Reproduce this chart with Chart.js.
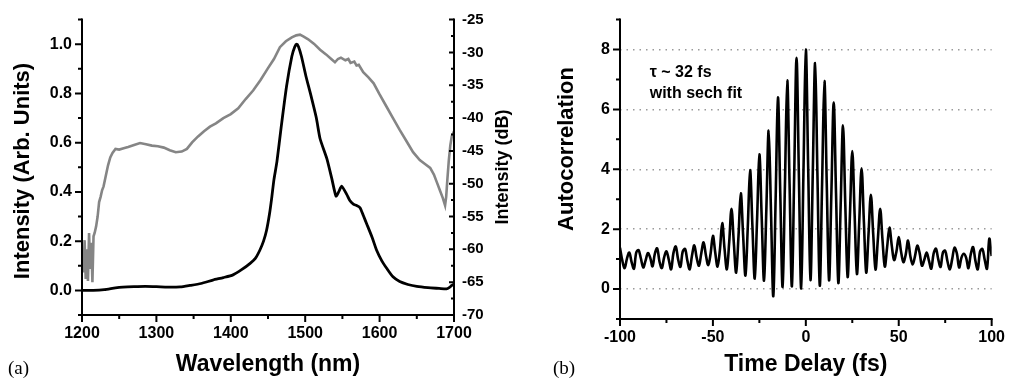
<!DOCTYPE html>
<html>
<head>
<meta charset="utf-8">
<script src="https://cdn.jsdelivr.net/npm/chart.js@4.4.0/dist/chart.umd.min.js"></script>
<style>
  html, body { margin: 0; padding: 0; background: #fff; }
  body { width: 1014px; height: 378px; position: relative; overflow: hidden; }
  canvas { position: absolute; top: 0; }
</style>
</head>
<body>
<canvas id="spectrum" width="520" height="378" style="left:0"></canvas>
<canvas id="autocorr" width="494" height="378" style="left:520px"></canvas>
<script>
// (a) spectrum, linear scale (black, left axis)
const linWavelength = [1200, 1215, 1230, 1245, 1255, 1270, 1285, 1300, 1315, 1332, 1345, 1360, 1376, 1390, 1403,
  1415, 1426, 1433, 1439, 1444, 1448, 1452, 1455, 1458, 1462, 1468, 1475, 1482, 1486, 1488.6, 1491, 1495,
  1501, 1507, 1515, 1520, 1529, 1535.6, 1541.4, 1545, 1549, 1555.8, 1560, 1564.7, 1569, 1573.7, 1578,
  1582.7, 1590, 1596, 1603, 1609.5, 1618, 1627, 1638, 1650, 1665, 1680, 1690, 1694, 1697, 1700];
const linIntensity = [0.0, 0.0, 0.003, 0.01, 0.013, 0.015, 0.016, 0.015, 0.013, 0.014, 0.02, 0.028, 0.042, 0.052, 0.063,
  0.085, 0.11, 0.13, 0.163, 0.2, 0.243, 0.31, 0.376, 0.45, 0.523, 0.67, 0.83, 0.95, 0.99, 1.0, 0.99, 0.95,
  0.87, 0.80, 0.70, 0.616, 0.536, 0.456, 0.383, 0.40, 0.423, 0.39, 0.365, 0.35, 0.345, 0.336, 0.305,
  0.27, 0.215, 0.163, 0.12, 0.09, 0.055, 0.036, 0.024, 0.016, 0.011, 0.008, 0.006, 0.012, 0.02, 0.026];

// (a) spectrum, log scale (grey, right axis)
const logWavelength = [1200, 1202, 1203.5, 1205, 1206.5, 1208, 1209.5, 1211, 1212.5, 1214, 1215.5, 1217, 1219, 1221,
  1223, 1225, 1227, 1229, 1232, 1235, 1238, 1241, 1245, 1250, 1256, 1262, 1270, 1278, 1286, 1294, 1302,
  1310, 1318, 1326, 1334, 1341, 1348, 1356, 1364, 1372, 1380, 1390, 1400, 1410, 1420, 1430, 1440, 1450,
  1458, 1466, 1474, 1482, 1488, 1493, 1498, 1504, 1512, 1520, 1528, 1535, 1540, 1544, 1548, 1554, 1558,
  1561, 1566, 1569, 1572, 1578, 1585, 1592, 1600, 1609, 1618, 1627, 1636, 1645, 1654, 1661, 1668, 1673,
  1677, 1681, 1685, 1688, 1689.5, 1691, 1693, 1695, 1697, 1700];
const logIntensityDb = [-62.0, -63.5, -58.6, -64.5, -60.0, -64.8, -57.5, -63.0, -59.0, -65.0, -58.0, -57.5, -56.5, -55.0,
  -52.8, -52.0, -51.0, -50.4, -48.8, -47.2, -46.0, -45.3, -44.7, -44.8, -44.6, -44.4, -44.1, -43.8, -44.0, -44.2, -44.3,
  -44.5, -44.9, -45.2, -45.1, -44.7, -43.7, -42.8, -42.0, -41.3, -40.8, -40.0, -39.4, -38.5, -37.1, -35.8, -34.2, -32.4,
  -31.0, -29.2, -28.3, -27.7, -27.4, -27.3, -27.6, -28.0, -28.7, -29.6, -30.3, -31.0, -31.5, -31.0, -30.8, -31.2, -31.0,
  -31.6, -31.4, -32.0, -31.9, -33.0, -33.8, -34.7, -36.4, -38.2, -40.0, -41.8, -43.5, -45.2, -46.4, -47.0, -47.6, -48.6,
  -49.8, -51.0, -52.2, -53.3, -52.0, -49.5, -46.5, -44.2, -42.8, -42.0];

// (b) interferometric autocorrelation
const acDelay = [-100, -98.75, -97.5, -96.25, -95, -93.75, -92.5, -91.25, -90, -88.75, -87.5, -86.25,
  -85, -83.75, -82.5, -81.25, -80, -78.75, -77.5, -76.25, -75, -73.75, -72.5, -71.25,
  -70, -68.75, -67.5, -66.25, -65, -63.75, -62.5, -61.25, -60, -58.75, -57.5, -56.25,
  -55, -53.75, -52.5, -51.25, -50, -48.75, -47.5, -46.25, -45, -43.75, -42.5, -41.25,
  -40, -38.75, -37.5, -36.25, -35, -33.75, -32.5, -31.25, -30, -28.75, -27.5, -26.25,
  -25, -23.75, -22.5, -21.25, -20, -18.75, -17.5, -16.25, -15, -13.75, -12.5, -11.25,
  -10, -8.75, -7.5, -6.25, -5, -3.75, -2.5, -1.25, 0, 1.25, 2.5, 3.75,
  5, 6.25, 7.5, 8.75, 10, 11.25, 12.5, 13.75, 15, 16.25, 17.5, 18.75,
  20, 21.25, 22.5, 23.75, 25, 26.25, 27.5, 28.75, 30, 31.25, 32.5, 33.75,
  35, 36.25, 37.5, 38.75, 40, 41.25, 42.5, 43.75, 45, 46.25, 47.5, 48.75,
  50, 51.25, 52.5, 53.75, 55, 56.25, 57.5, 58.75, 60, 61.25, 62.5, 63.75,
  65, 66.25, 67.5, 68.75, 70, 71.25, 72.5, 73.75, 75, 76.25, 77.5, 78.75,
  80, 81.25, 82.5, 83.75, 85, 86.25, 87.5, 88.75, 90, 91.25, 92.5, 93.75,
  95, 96.25, 97.5, 98.75, 100];
const acSignal = [1.38, 0.95, 0.70, 1.02, 1.22, 0.90, 0.68, 1.22, 1.30, 1.02, 0.72, 0.95,
  1.20, 1.05, 0.76, 1.18, 1.36, 0.92, 0.70, 1.06, 1.26, 0.98, 0.66, 1.20,
  1.42, 1.00, 0.74, 1.25, 1.34, 0.95, 0.66, 1.12, 1.46, 1.05, 0.78, 1.20,
  1.56, 1.12, 0.80, 1.18, 1.78, 1.22, 0.75, 1.30, 2.20, 1.35, 0.66, 1.55,
  2.68, 1.55, 0.55, 1.75, 3.20, 1.80, 0.45, 2.05, 3.97, 2.12, 0.35, 2.30,
  4.50, 2.40, 0.28, 2.65, 5.29, 2.60, -0.24, 3.00, 6.40, 3.20, 0.07, 3.45,
  6.97, 3.50, 0.09, 3.85, 7.72, 3.85, 0.02, 4.00, 8.00, 4.10, 0.30, 3.90,
  7.55, 3.80, 0.11, 3.50, 6.95, 3.55, 0.29, 3.20, 6.23, 3.20, 0.20, 2.80,
  5.47, 2.80, 0.40, 2.50, 4.61, 2.50, 0.50, 2.25, 4.03, 2.25, 0.55, 1.85,
  3.15, 1.85, 0.65, 1.65, 2.68, 1.65, 0.75, 1.40, 2.05, 1.45, 0.97, 1.25,
  1.74, 1.25, 0.90, 1.15, 1.62, 1.10, 0.82, 1.10, 1.45, 1.20, 0.78, 0.98,
  1.22, 0.95, 0.68, 1.18, 1.35, 1.00, 0.74, 1.22, 1.28, 0.92, 0.66, 1.00,
  1.38, 1.20, 0.72, 1.05, 1.18, 1.05, 0.70, 1.16, 1.40, 0.95, 0.66, 1.25,
  1.34, 0.98, 0.68, 1.68, 1.10];

// ticks
const waveMajor = [1200, 1300, 1400, 1500, 1600, 1700];
const waveMinor = [1250, 1350, 1450, 1550, 1650];
const linMajor = [0, 0.2, 0.4, 0.6, 0.8, 1.0];
const linMinor = [-0.1, 0.1, 0.3, 0.5, 0.7, 0.9, 1.1];
const linLabels = ['0.0', '0.2', '0.4', '0.6', '0.8', '1.0'];
const dbMajor = [-70, -65, -60, -55, -50, -45, -40, -35, -30, -25];
const dbMinor = [-67.5, -62.5, -57.5, -52.5, -47.5, -42.5, -37.5, -32.5, -27.5];
const delayMajor = [-100, -50, 0, 50, 100];
const delayMinor = [-75, -25, 25, 75];
const acMajor = [0, 2, 4, 6, 8];
const acMinor = [-1, 1, 3, 5, 7, 9];

Chart.defaults.font.family = '"Liberation Sans", Arial, sans-serif';
Chart.defaults.color = '#000';

const tickFont = { size: 16, weight: 'bold' };
const titleFont = { size: 23, weight: 'bold' };

function setTicks(major, minor) {
  return function (scale) {
    scale.ticks = major.map(v => ({ value: v, major: true }))
      .concat(minor.map(v => ({ value: v, major: false })))
      .sort((a, b) => a.value - b.value);
  };
}

function pts(xs, ys) {
  return xs.map((x, i) => ({ x: x, y: ys[i] }));
}

// axis lines, tick marks and loose text
function makeFrame(cfg) {
  return {
    id: 'frame',
    afterDraw: function (chart) {
      const ctx = chart.ctx;
      const area = chart.chartArea;
      ctx.save();
      ctx.strokeStyle = '#000';
      cfg.axes.forEach(function (a) {
        const s = chart.scales[a.id];
        const edge = a.side === 'bottom' ? area.bottom : (a.side === 'left' ? area.left : area.right);
        ctx.lineWidth = 2;
        ctx.lineCap = 'square';
        ctx.beginPath();
        if (a.side === 'bottom') { ctx.moveTo(area.left, edge); ctx.lineTo(area.right, edge); }
        else { ctx.moveTo(edge, area.top); ctx.lineTo(edge, area.bottom); }
        ctx.stroke();
        ctx.lineCap = 'butt';
        ctx.beginPath();
        s.ticks.forEach(function (t) {
          const p = s.getPixelForValue(t.value);
          const len = (t.major ? a.major : a.minor) * a.dir;
          if (a.side === 'bottom') { ctx.moveTo(p, edge); ctx.lineTo(p, edge + len); }
          else { ctx.moveTo(edge, p); ctx.lineTo(edge + len, p); }
        });
        ctx.stroke();
      });
      ctx.fillStyle = '#000';
      cfg.labels.forEach(function (l) {
        ctx.save();
        ctx.font = l.font;
        ctx.textAlign = l.align;
        ctx.textBaseline = 'alphabetic';
        ctx.translate(l.x, l.y);
        if (l.rotate) ctx.rotate(-Math.PI / 2);
        ctx.fillText(l.text, 0, 0);
        ctx.restore();
      });
      (cfg.notes || []).forEach(function (n) {
        ctx.font = n.font;
        ctx.textAlign = 'left';
        ctx.textBaseline = 'middle';
        ctx.fillText(n.text, chart.scales.x.getPixelForValue(n.x), chart.scales.y.getPixelForValue(n.y));
      });
      ctx.restore();
    }
  };
}

const hidden = { grid: { display: false, drawTicks: false }, border: { display: false } };

new Chart(document.getElementById('spectrum'), {
  type: 'line',
  data: {
    datasets: [
      { data: pts(linWavelength, linIntensity), yAxisID: 'y', borderColor: '#000', borderWidth: 2.8,
        pointRadius: 0, tension: 0.2, fill: false },
      { data: pts(logWavelength, logIntensityDb), yAxisID: 'y2', borderColor: '#858585', borderWidth: 2.6,
        pointRadius: 0, tension: 0, fill: false }
    ]
  },
  options: {
    responsive: false, animation: false, devicePixelRatio: 1,
    layout: { autoPadding: false, padding: { top: 15, left: 0, right: 0, bottom: 0 } },
    plugins: { legend: { display: false }, tooltip: { enabled: false } },
    scales: {
      x: Object.assign({
        type: 'linear', position: 'bottom', min: 1200, max: 1700,
        afterBuildTicks: setTicks(waveMajor, waveMinor),
        afterFit: s => { s.height = 63; },
        ticks: { autoSkip: false, maxRotation: 0, padding: 9, font: tickFont,
          callback: v => waveMajor.includes(v) ? String(v) : '' },
        title: { display: true, text: 'Wavelength (nm)', font: titleFont, padding: { top: 0, bottom: 0 } }
      }, hidden),
      y: Object.assign({
        type: 'linear', position: 'left', min: -0.1, max: 1.1,
        afterBuildTicks: setTicks(linMajor, linMinor),
        afterFit: s => { s.width = 82; },
        ticks: { autoSkip: false, padding: 10, font: tickFont,
          callback: v => { const i = linMajor.indexOf(v); return i >= 0 ? linLabels[i] : ''; } }
      }, hidden),
      y2: Object.assign({
        type: 'linear', position: 'right', min: -70, max: -25,
        afterBuildTicks: setTicks(dbMajor, dbMinor),
        afterFit: s => { s.width = 66; },
        ticks: { autoSkip: false, padding: 8, font: { size: 15, weight: 'bold' },
          callback: v => dbMajor.includes(v) ? String(v) : '' }
      }, hidden)
    }
  },
  plugins: [makeFrame({
    axes: [
      { id: 'x', side: 'bottom', dir: 1, major: 7, minor: 4 },
      { id: 'y', side: 'left', dir: -1, major: 7, minor: 4 },
      { id: 'y2', side: 'right', dir: -1, major: 5, minor: 3 }
    ],
    labels: [
      { text: '(a)', x: 8, y: 374, font: '19px "Liberation Serif", serif', align: 'left' },
      { text: 'Intensity (Arb. Units)', x: 29, y: 171, rotate: true, font: 'bold 22px "Liberation Sans", Arial', align: 'center' },
      { text: 'Intensity (dB)', x: 508, y: 167, rotate: true, font: 'bold 18px "Liberation Sans", Arial', align: 'center' }
    ]
  })]
});

new Chart(document.getElementById('autocorr'), {
  type: 'line',
  data: {
    datasets: [
      { data: pts(acDelay, acSignal), borderColor: '#000', borderWidth: 2.6,
        pointRadius: 0, tension: 0.35, fill: false }
    ]
  },
  options: {
    responsive: false, animation: false, devicePixelRatio: 1,
    layout: { autoPadding: false, padding: { top: 17, left: 0, right: 17, bottom: 0 } },
    plugins: { legend: { display: false }, tooltip: { enabled: false } },
    scales: {
      x: Object.assign({
        type: 'linear', position: 'bottom', min: -100, max: 100,
        afterBuildTicks: setTicks(delayMajor, delayMinor),
        afterFit: s => { s.height = 59; },
        ticks: { autoSkip: false, maxRotation: 0, padding: 9, font: tickFont,
          callback: v => delayMajor.includes(v) ? String(v) : '' },
        title: { display: true, text: 'Time Delay (fs)', font: titleFont, padding: { top: 0, bottom: 0 } }
      }, hidden),
      y: {
        type: 'linear', position: 'left', min: -1, max: 9,
        afterBuildTicks: setTicks(acMajor, acMinor),
        afterFit: s => { s.width = 100; },
        grid: { display: true, drawTicks: false, lineWidth: 1.5,
          color: c => (c.tick && c.tick.major) ? '#9a9a9a' : 'rgba(0,0,0,0)' },
        border: { display: false, dash: [1.5, 5] },
        ticks: { autoSkip: false, padding: 10, font: tickFont,
          callback: v => acMajor.includes(v) ? String(v) : '' }
      }
    }
  },
  plugins: [makeFrame({
    axes: [
      { id: 'x', side: 'bottom', dir: 1, major: 7, minor: 4 },
      { id: 'y', side: 'left', dir: -1, major: 7, minor: 4 }
    ],
    labels: [
      { text: '(b)', x: 33, y: 374, font: '19px "Liberation Serif", serif', align: 'left' },
      { text: 'Autocorrelation', x: 53, y: 149, rotate: true, font: 'bold 22px "Liberation Sans", Arial', align: 'center' }
    ],
    notes: [
      { text: 'τ ~ 32 fs', x: -84, y: 7.22, font: 'bold 16px "Liberation Sans", Arial' },
      { text: 'with sech fit', x: -84, y: 6.52, font: 'bold 16px "Liberation Sans", Arial' }
    ]
  })]
});
</script>
</body>
</html>
